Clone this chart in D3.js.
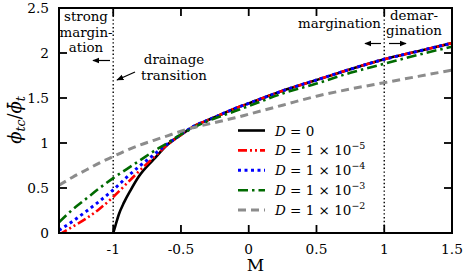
<!DOCTYPE html>
<html>
<head>
<meta charset="utf-8">
<script src="https://cdn.jsdelivr.net/npm/d3@7"></script>
<style>
    body { margin: 0; background: #fff; }
</style>
</head>
<body>
<div id="chart"></div>
<script>
// values
const mGrid = [-1.4, -1.3, -1.2, -1.1, -1.0, -0.9, -0.8, -0.7, -0.6, -0.5, -0.4, -0.3, -0.2, -0.1, 0, 0.25, 0.5, 0.75, 1, 1.25, 1.5];
const mBlack = [-1, -0.98, -0.96, -0.92, -0.87, -0.81, -0.7, -0.6, -0.5, -0.4, -0.3, -0.2, -0.1, 0, 0.25, 0.5, 0.75, 1, 1.25, 1.5];

const phiD0 = [0, 0.1, 0.2, 0.34, 0.48, 0.63, 0.82, 0.98, 1.09, 1.19, 1.255, 1.32, 1.385, 1.44, 1.58, 1.70, 1.82, 1.93, 2.02, 2.11];
const phiD5 = [-0.02, 0.07, 0.16, 0.27, 0.40, 0.55, 0.70, 0.84, 0.98, 1.09, 1.19, 1.255, 1.32, 1.385, 1.44, 1.58, 1.70, 1.82, 1.93, 2.02, 2.11];
const phiD4 = [0.03, 0.13, 0.24, 0.355, 0.48, 0.62, 0.75, 0.87, 0.99, 1.095, 1.19, 1.255, 1.32, 1.385, 1.44, 1.58, 1.70, 1.82, 1.93, 2.02, 2.11];
const phiD3 = [0.12, 0.26, 0.38, 0.50, 0.61, 0.71, 0.81, 0.91, 1.00, 1.095, 1.175, 1.245, 1.30, 1.355, 1.41, 1.55, 1.66, 1.78, 1.88, 1.98, 2.07];
const phiD2 = [0.53, 0.62, 0.70, 0.78, 0.85, 0.92, 0.98, 1.03, 1.08, 1.13, 1.175, 1.21, 1.245, 1.28, 1.32, 1.42, 1.52, 1.60, 1.67, 1.74, 1.81];

const xTicks = [-1, -0.5, 0, 0.5, 1, 1.5];
const yTicks = [0, 0.5, 1, 1.5, 2, 2.5];
const legendExp = [null, "−5", "−4", "−3", "−2"];

let WIDTH = 467,
    HEIGHT = 275,
    LEFT = 59,
    RIGHT = 452,
    TOP = 8,
    BOTTOM = 233,
    TICK = 8,
    FONT = "'DejaVu Serif', serif";

let svg = d3.select("#chart").append("svg")
    .attr("width", WIDTH)
    .attr("height", HEIGHT)
    .attr("font-family", FONT)
    .style("font-family", FONT);

let x = d3.scaleLinear().domain([-1.4, 1.5]).range([LEFT, RIGHT]);
let y = d3.scaleLinear().domain([0, 2.5]).range([BOTTOM, TOP]);

let defs = svg.append("defs");
defs.append("clipPath").attr("id", "plot")
    .append("rect")
    .attr("x", LEFT).attr("y", TOP)
    .attr("width", RIGHT - LEFT).attr("height", BOTTOM - TOP);

// series styles
let series = [
    {m: mBlack, v: phiD0, color: "#000", dash: null, w: 2.6},
    {m: mGrid, v: phiD5, color: "#ff0000", dash: "9,3,2,3,2,3", w: 2.6},
    {m: mGrid, v: phiD4, color: "#0000ff", dash: "3,3.5", w: 3},
    {m: mGrid, v: phiD3, color: "#006a00", dash: "10,4,2.5,4", w: 2.6},
    {m: mGrid, v: phiD2, color: "#8c8c8c", dash: "8,5", w: 3}
];

// dotted transition lines at M = -1 and M = 1
svg.append("g").selectAll("line")
    .data([-1, 1])
    .join("line")
    .attr("x1", d => x(d)).attr("x2", d => x(d))
    .attr("y1", TOP).attr("y2", BOTTOM)
    .attr("stroke", "#000")
    .attr("stroke-width", 1.4)
    .attr("stroke-dasharray", "1.4,2.4");

let line = d3.line().curve(d3.curveMonotoneX);

svg.append("g").attr("clip-path", "url(#plot)")
    .selectAll("path")
    .data(series)
    .join("path")
    .attr("fill", "none")
    .attr("stroke", d => d.color)
    .attr("stroke-width", d => d.w)
    .attr("stroke-dasharray", d => d.dash)
    .attr("d", d => line(d.m.map((m, i) => [x(m), y(d.v[i])])));

// frame and inward ticks on all four sides
svg.append("rect")
    .attr("x", LEFT).attr("y", TOP)
    .attr("width", RIGHT - LEFT).attr("height", BOTTOM - TOP)
    .attr("fill", "none")
    .attr("stroke", "#000")
    .attr("stroke-width", 2);

let ticks = svg.append("g").attr("stroke", "#000").attr("stroke-width", 1.8);
xTicks.forEach(t => {
    ticks.append("line").attr("x1", x(t)).attr("x2", x(t)).attr("y1", BOTTOM).attr("y2", BOTTOM - TICK);
    ticks.append("line").attr("x1", x(t)).attr("x2", x(t)).attr("y1", TOP).attr("y2", TOP + TICK);
});
yTicks.forEach(t => {
    ticks.append("line").attr("x1", LEFT).attr("x2", LEFT + TICK).attr("y1", y(t)).attr("y2", y(t));
    ticks.append("line").attr("x1", RIGHT).attr("x2", RIGHT - TICK).attr("y1", y(t)).attr("y2", y(t));
});

svg.append("g").selectAll("text")
    .data(xTicks)
    .join("text")
    .attr("x", d => x(d))
    .attr("y", 254)
    .attr("text-anchor", "middle")
    .attr("font-size", 13.7)
    .text(d => d);

svg.append("g").selectAll("text")
    .data(yTicks)
    .join("text")
    .attr("x", 49)
    .attr("y", d => y(d) + 5)
    .attr("text-anchor", "end")
    .attr("font-size", 13.7)
    .text(d => d);

// axis titles
svg.append("text")
    .attr("x", (LEFT + RIGHT) / 2)
    .attr("y", 271)
    .attr("text-anchor", "middle")
    .attr("font-size", 17)
    .text("M");

let ylab = svg.append("text")
    .attr("transform", "translate(21,120) rotate(-90)")
    .attr("text-anchor", "middle")
    .attr("font-size", 18)
    .attr("font-style", "italic");
ylab.append("tspan").text("ϕ");
ylab.append("tspan").attr("font-size", 12.5).attr("dy", 4).text("tc");
ylab.append("tspan").attr("dy", -4).attr("font-style", "normal").text("/");
ylab.append("tspan").text("ϕ\u0304");
ylab.append("tspan").attr("font-size", 12.5).attr("dy", 4).text("t");

// annotations
let notes = [
    {t: "strong", x: 86, y: 21, a: "middle"},
    {t: "margin-", x: 86, y: 36.5, a: "middle"},
    {t: "ation", x: 86, y: 52, a: "middle"},
    {t: "drainage", x: 174, y: 64, a: "middle"},
    {t: "transition", x: 174, y: 80, a: "middle"},
    {t: "margination", x: 381, y: 28, a: "end"},
    {t: "demar-", x: 414, y: 20, a: "middle"},
    {t: "gination", x: 414, y: 35, a: "middle"}
];
svg.append("g").selectAll("text")
    .data(notes)
    .join("text")
    .attr("x", d => d.x)
    .attr("y", d => d.y)
    .attr("text-anchor", d => d.a)
    .attr("font-size", 13.4)
    .text(d => d.t);

defs.append("marker")
    .attr("id", "head")
    .attr("viewBox", "0 -5 10 10")
    .attr("refX", 9).attr("refY", 0)
    .attr("markerWidth", 6).attr("markerHeight", 6)
    .attr("markerUnits", "strokeWidth")
    .attr("orient", "auto")
    .append("path")
    .attr("d", "M0,-4L10,0L0,4Z")
    .attr("fill", "#000");

let arrows = [
    [110, 60.5, 93, 60.5],
    [135, 72, 117, 80],
    [381, 43.5, 365, 43.5],
    [389, 43.5, 406, 43.5]
];
svg.append("g").selectAll("line")
    .data(arrows)
    .join("line")
    .attr("x1", d => d[0]).attr("y1", d => d[1])
    .attr("x2", d => d[2]).attr("y2", d => d[3])
    .attr("stroke", "#000")
    .attr("stroke-width", 1.2)
    .attr("marker-end", "url(#head)");

// legend
let legend = svg.append("g").selectAll("g")
    .data(series)
    .join("g")
    .attr("transform", (d, i) => `translate(238, ${130.5 + i * 19.9})`);

legend.append("line")
    .attr("x1", 0).attr("x2", 27)
    .attr("stroke", d => d.color)
    .attr("stroke-width", d => d.w)
    .attr("stroke-dasharray", d => d.dash);

let ltext = legend.append("text")
    .attr("x", 37)
    .attr("y", 5)
    .attr("font-size", 13.5);
ltext.append("tspan").attr("font-style", "italic").text("D");
ltext.append("tspan").text((d, i) => legendExp[i] === null ? " = 0" : " = 1 × 10");
ltext.append("tspan")
    .attr("font-size", 9.5)
    .attr("dy", -6)
    .text((d, i) => legendExp[i] === null ? "" : legendExp[i]);
</script>
</body>
</html>
